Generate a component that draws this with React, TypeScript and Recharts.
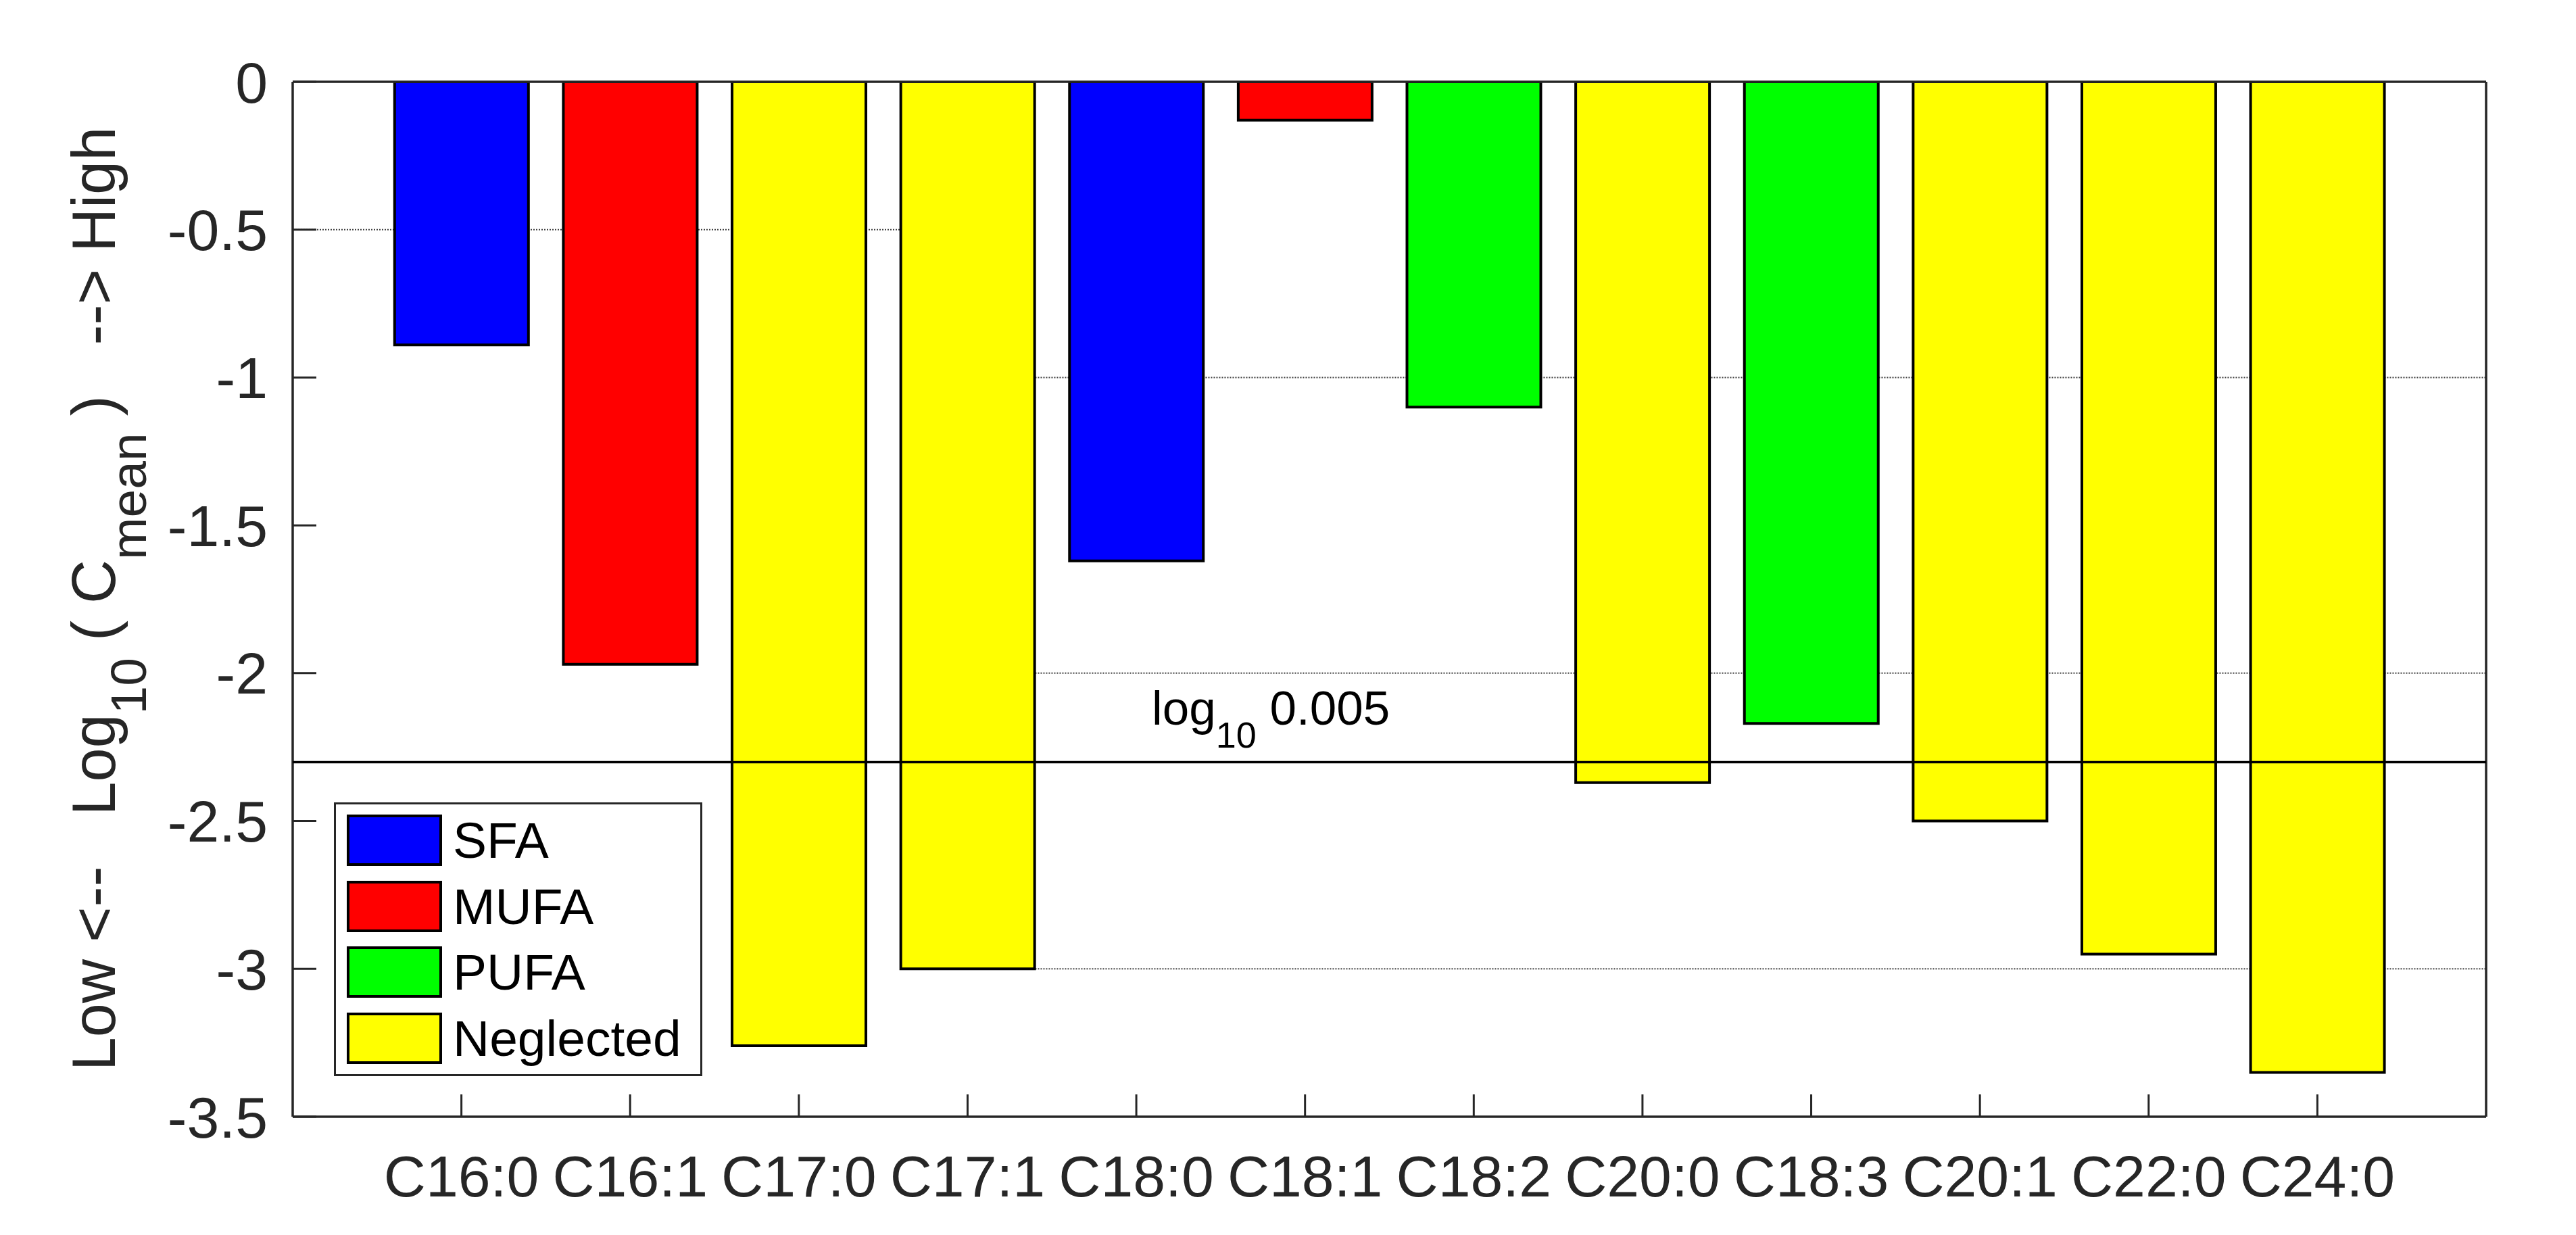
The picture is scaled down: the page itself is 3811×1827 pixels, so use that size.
import { ComposedChart, Bar, Cell, Line, XAxis, YAxis, ReferenceLine, Legend } from "recharts";

// fatty acids, in plotting order
const categories = ["C16:0", "C16:1", "C17:0", "C17:1", "C18:0", "C18:1", "C18:2", "C20:0", "C18:3", "C20:1", "C22:0", "C24:0"];
// log10 of mean concentration
const logMean = [-0.89, -1.97, -3.26, -3.0, -1.62, -0.13, -1.1, -2.37, -2.17, -2.5, -2.95, -3.35];
const groups = ["SFA", "MUFA", "Neglected", "Neglected", "SFA", "MUFA", "PUFA", "Neglected", "PUFA", "Neglected", "Neglected", "Neglected"];

const groupNames = ["SFA", "MUFA", "PUFA", "Neglected"];
const groupColors: Record<string, string> = {
  SFA: "#0000ff",
  MUFA: "#ff0000",
  PUFA: "#00ff00",
  Neglected: "#ffff00",
};

const yTicks = [0, -0.5, -1, -1.5, -2, -2.5, -3, -3.5];
const xTicks = categories.map((_, i) => i + 1);
const threshold = -2.301; // log10 0.005

// partial dotted guide lines: [y, xFrom, xTo]
// (x ends kept on whole positions so the bar band size stays one category wide)
const guideLines: Array<[number, number, number]> = [
  [-0.5, 0, 4],
  [-1, 4, 13],
  [-2, 4, 13],
  [-3, 4, 13],
];

const rows = categories.map((name, i) => ({
  pos: i + 1,
  name,
  value: logMean[i],
  group: groups[i],
}));

const FONT = '"Liberation Sans", Arial, Helvetica, sans-serif';
const AXIS = "#262626";

const axisLine = { stroke: AXIS, strokeWidth: 3.5 };
const tickLine = { stroke: AXIS, strokeWidth: 3 };

const YTitle = () => (
  <text
    x={170}
    y={886}
    transform="rotate(-90, 170, 886)"
    textAnchor="middle"
    fontFamily={FONT}
    fontSize={90}
    fill={AXIS}
    style={{ whiteSpace: "pre" }}
  >
    <tspan>{"Low <--   Log"}</tspan>
    <tspan fontSize={75} dy={46}>10</tspan>
    <tspan dy={-46}>{" ( C"}</tspan>
    <tspan fontSize={75} dy={46}>mean</tspan>
    <tspan dy={-46}>{" )   --> High"}</tspan>
  </text>
);

const ThresholdLabel = (props: any) => {
  const vb = props.viewBox || { x: 433, y: 1127 };
  return (
    <text x={vb.x + 1271} y={vb.y - 56} fontFamily={FONT} fontSize={71} fill="#000" style={{ whiteSpace: "pre" }}>
      <tspan>log</tspan>
      <tspan fontSize={54} dy={34}>{"10"}</tspan>
      <tspan dy={-34}>{" 0.005"}</tspan>
    </text>
  );
};

const renderLegend = () => (
  <div
    style={{
      position: "relative",
      width: 545,
      height: 405,
      border: `3px solid ${AXIS}`,
      boxSizing: "border-box",
      background: "#fff",
      fontFamily: FONT,
    }}
  >
    {groupNames.map((g, i) => (
      <div
        key={g}
        style={{
          position: "absolute",
          left: 16,
          top: 15 + i * 97.5,
          height: 76,
          display: "flex",
          alignItems: "center",
        }}
      >
        <div
          style={{
            width: 141,
            height: 76,
            boxSizing: "border-box",
            border: "4px solid #000",
            background: groupColors[g],
          }}
        />
        <span style={{ marginLeft: 16, fontSize: 75, color: "#000", lineHeight: "76px" }}>{g}</span>
      </div>
    ))}
  </div>
);

export default function App() {
  return (
    <div style={{ position: "absolute", left: 0, top: 0, width: 3811, height: 1827, background: "#fff" }}>
      <ComposedChart
        width={3811}
        height={1827}
        data={rows}
        margin={{ top: 120, right: 132, left: 0, bottom: 0 }}
      >
        <XAxis
          xAxisId="b"
          dataKey="pos"
          type="number"
          domain={[0, 13]}
          ticks={xTicks}
          interval={0}
          allowDataOverflow
          height={175}
          tickFormatter={(v: number) => categories[v - 1] ?? ""}
          tick={{ fill: AXIS, fontSize: 86, fontFamily: FONT }}
          tickSize={-33}
          tickMargin={90}
          axisLine={axisLine}
          tickLine={tickLine}
        />
        <XAxis
          xAxisId="t"
          dataKey="pos"
          type="number"
          orientation="top"
          domain={[0, 13]}
          ticks={xTicks}
          interval={0}
          allowDataOverflow
          height={1}
          tick={false}
          tickSize={-33}
          axisLine={axisLine}
          tickLine={tickLine}
        />
        <YAxis
          yAxisId="l"
          type="number"
          domain={[-3.5, 0]}
          ticks={yTicks}
          interval={0}
          allowDataOverflow
          width={433}
          tick={{ fill: AXIS, fontSize: 86, fontFamily: FONT }}
          tickSize={-35}
          tickMargin={72}
          axisLine={axisLine}
          tickLine={tickLine}
          label={{ content: () => <YTitle /> }}
        />
        <YAxis
          yAxisId="r"
          orientation="right"
          type="number"
          domain={[-3.5, 0]}
          ticks={yTicks}
          interval={0}
          allowDataOverflow
          width={1}
          tick={false}
          tickSize={-35}
          axisLine={axisLine}
          tickLine={tickLine}
        />

        {guideLines.map(([y, x0, x1]) => (
          <Line
            key={`g${y}`}
            xAxisId="b"
            yAxisId="l"
            data={[{ pos: x0, guide: y }, { pos: x1, guide: y }]}
            dataKey="guide"
            type="linear"
            stroke="#444"
            strokeWidth={2}
            strokeDasharray="2 2"
            dot={false}
            activeDot={false}
            legendType="none"
            isAnimationActive={false}
            zIndex={100}
          />
        ))}

        <Bar
          xAxisId="b"
          yAxisId="l"
          dataKey="value"
          barSize={198}
          stroke="#000"
          strokeWidth={4}
          isAnimationActive={false}
        >
          {rows.map((r) => (
            <Cell key={r.name} fill={groupColors[r.group]} />
          ))}
        </Bar>

        <ReferenceLine
          xAxisId="b"
          yAxisId="l"
          y={threshold}
          stroke="#000"
          strokeWidth={3.5}
          zIndex={600}
          label={{ content: (p: any) => <ThresholdLabel {...p} /> }}
        />

        <Legend
          layout="vertical"
          align="center"
          verticalAlign="middle"
          content={renderLegend}
          wrapperStyle={{ position: "absolute", left: 494, top: 1187, width: 545, height: 405 }}
        />
      </ComposedChart>
    </div>
  );
}
